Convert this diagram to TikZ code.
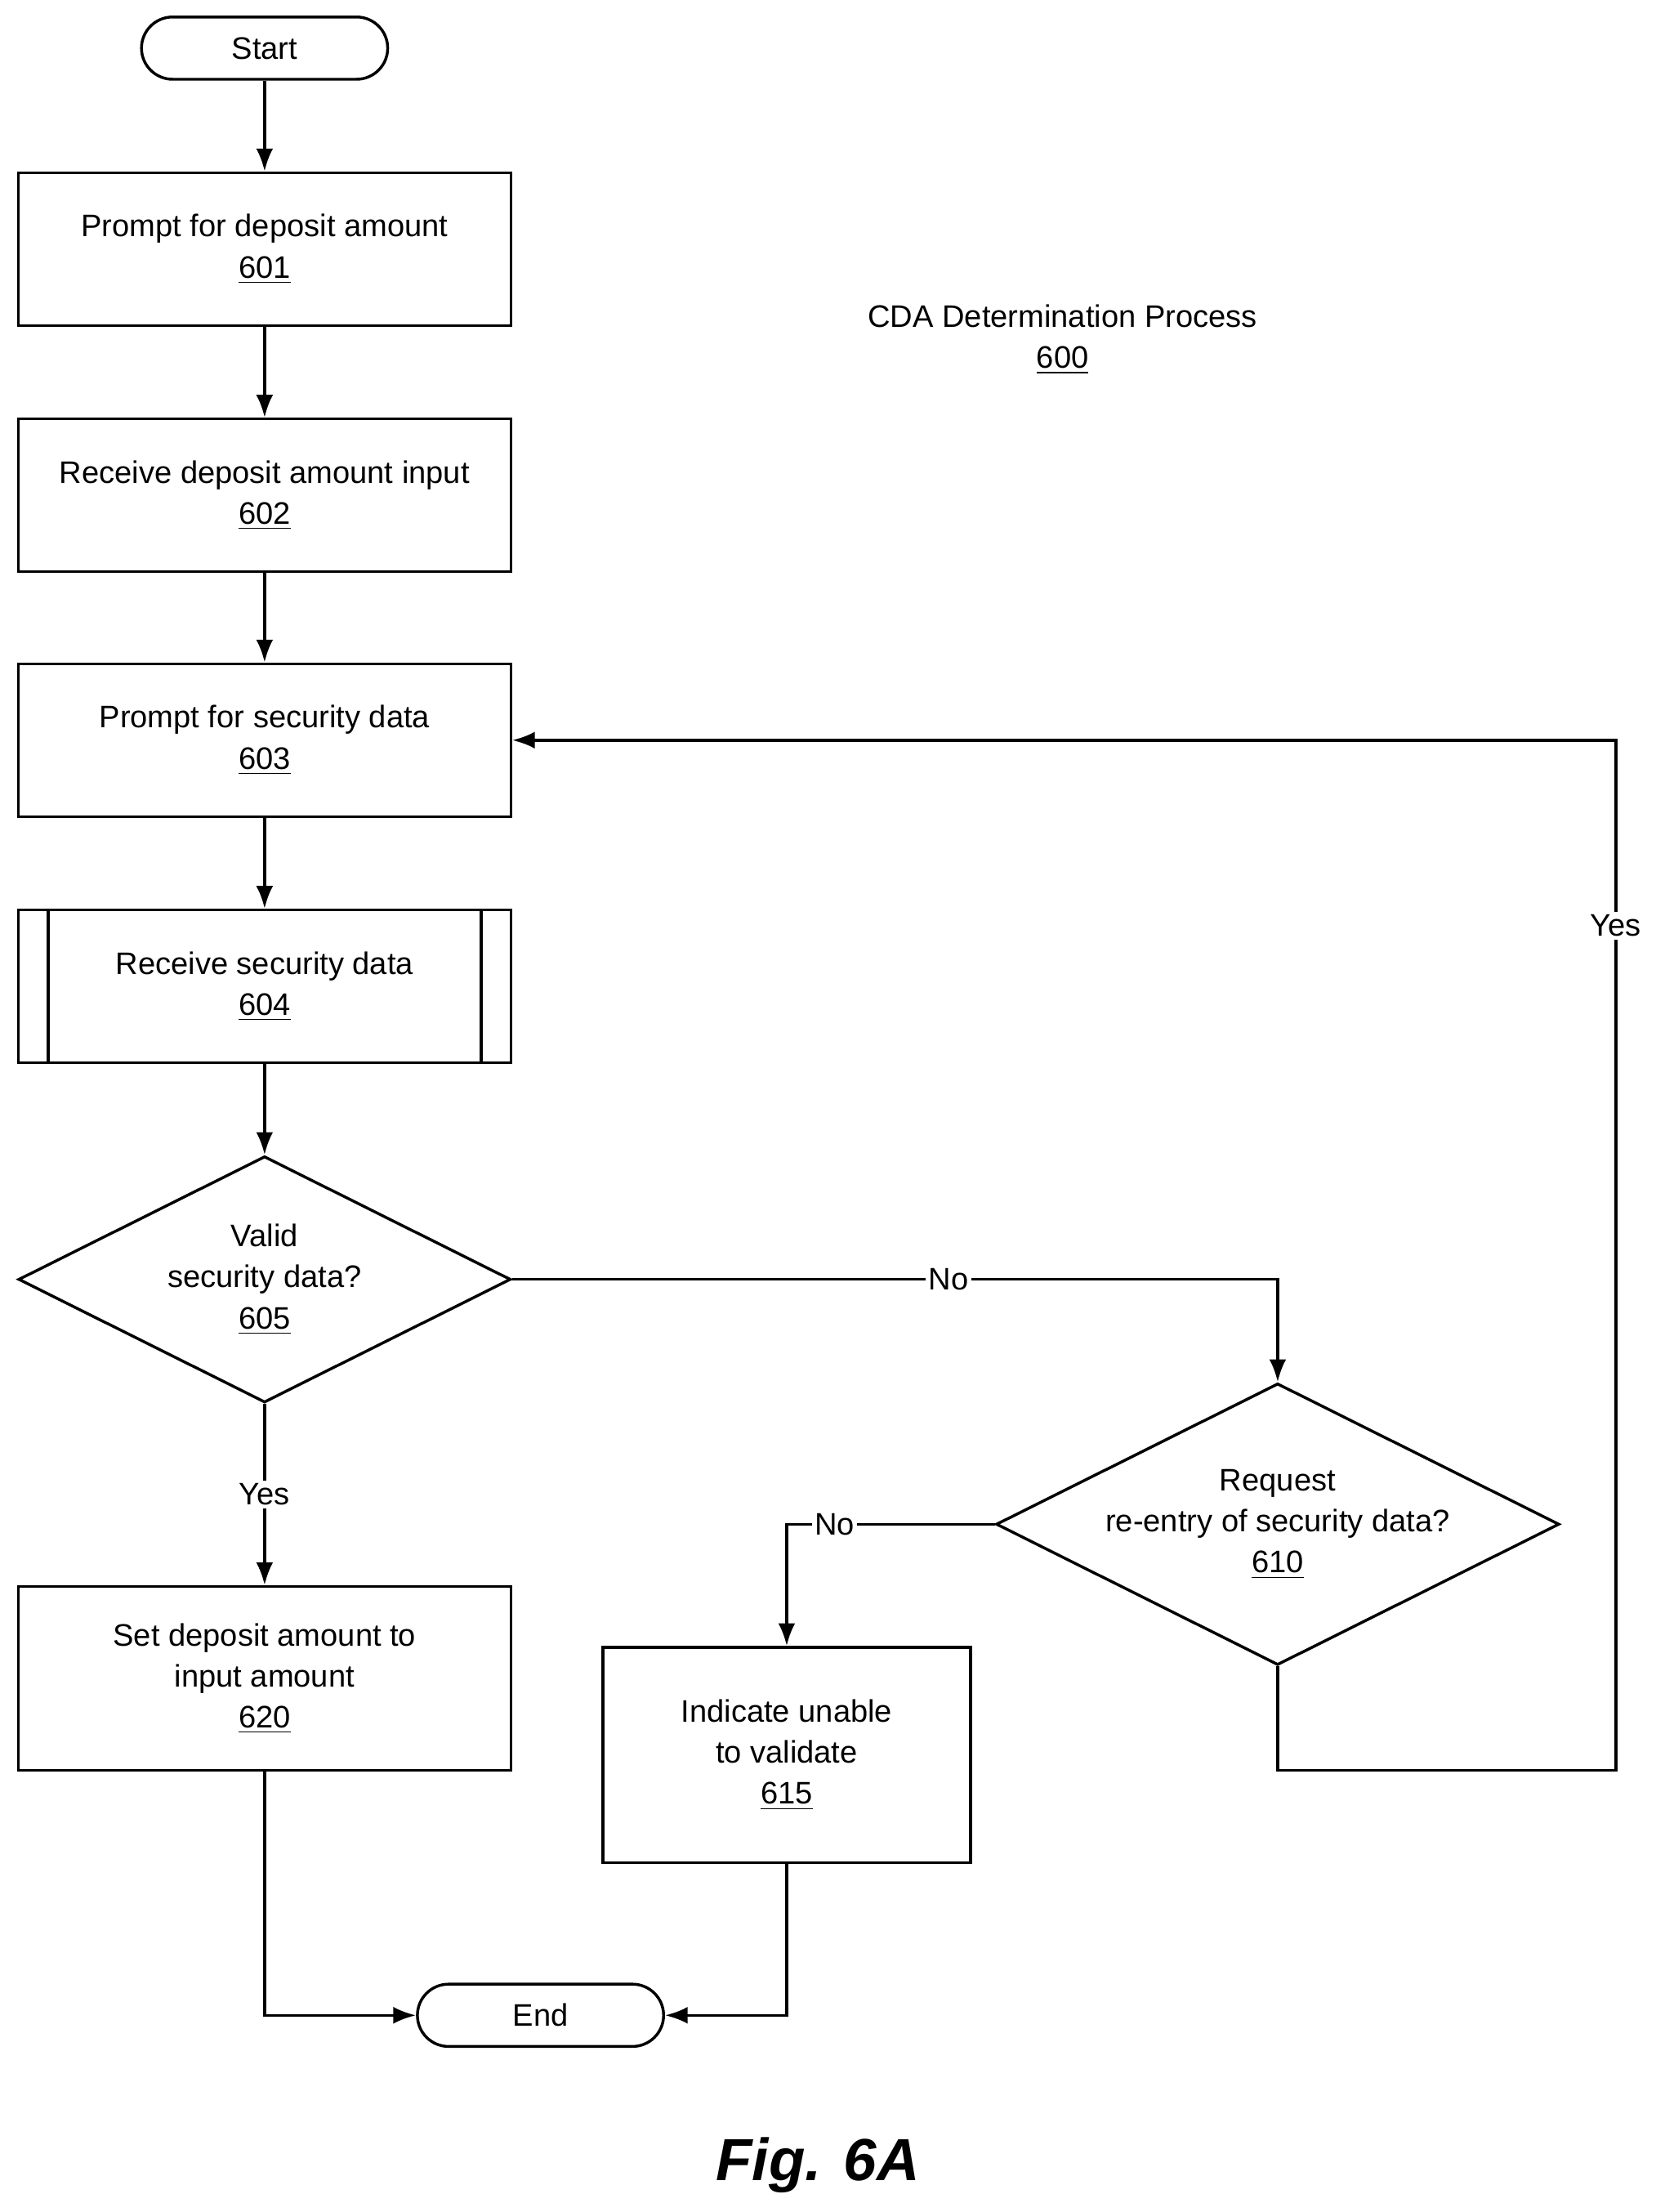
\documentclass[tikz,border=0pt]{standalone}
\usepackage{fontspec}
\setmainfont{Liberation Sans}
\usetikzlibrary{shapes.geometric,arrows.meta}
\tikzset{
  box/.style={draw=black, line width=1pt, fill=white, minimum width=174pt, minimum height=54pt, align=center, font=\fontsize{11}{14.5}\selectfont},
  term/.style={draw=black, line width=1pt, rounded corners=11pt, minimum width=87pt, minimum height=22pt, font=\fontsize{11}{14.5}\selectfont},
  dec/.style={draw=black, line width=1pt, diamond, aspect=2, inner sep=0pt, align=center, font=\fontsize{11}{14.5}\selectfont},
  flow/.style={draw=black, line width=1pt, -{Latex[length=8pt,width=6pt]}},
  lbl/.style={fill=white, inner sep=1pt, font=\fontsize{11}{14.5}\selectfont}
}
\begin{document}
\begin{tikzpicture}[x=0.5pt,y=-0.5pt]
\useasboundingbox (0,0) rectangle (1170,1563);
\node [term] (start) at (187,34) {Start};
\node [box] (p601) at (187,176) {Prompt for deposit amount\\\underline{601}};
\node [box] (p602) at (187,350) {Receive deposit amount input\\\underline{602}};
\node [box] (p603) at (187,523) {Prompt for security data\\\underline{603}};
\node [box] (p604) at (187,697) {Receive security data\\\underline{604}};
\draw [line width=1pt] ([xshift=11pt]p604.north west) -- ([xshift=11pt]p604.south west);
\draw [line width=1pt] ([xshift=-11pt]p604.north east) -- ([xshift=-11pt]p604.south east);
\node [dec, minimum width=174pt, minimum height=87pt] (p605) at (187,904) {Valid\\security data?\\\underline{605}};
\node [box, minimum height=65pt] (p620) at (187,1186) {Set deposit amount to\\input amount\\\underline{620}};
\node [dec, minimum width=196pt, minimum height=86.5pt] (p610) at (903,1077) {Request\\re-entry of security data?\\\underline{610}};
\node [box, minimum width=130pt, minimum height=76pt] (p615) at (556,1240) {Indicate unable\\to validate\\\underline{615}};
\node [term] (end) at (382,1424) {End};
\node [align=center, font=\fontsize{11}{14.5}\selectfont] (title) at (751,240) {CDA Determination Process\\\underline{600}};
\node [font=\fontsize{21}{24}\selectfont\bfseries\itshape] (fig) at (578,1530) {Fig. 6A};
\coordinate (c1) at (903,904);
\coordinate (c2) at (556,1077);
\coordinate (c3) at (903,1251);
\coordinate (c4) at (1142,1251);
\coordinate (c5) at (1142,523);
\coordinate (c6) at (187,1424);
\coordinate (c7) at (556,1424);
\draw [flow] (start) -- (p601);
\draw [flow] (p601) -- (p602);
\draw [flow] (p602) -- (p603);
\draw [flow] (p603) -- (p604);
\draw [flow] (p604) -- (p605);
\draw [flow] (p605) -- node [lbl] {Yes} (p620);
\draw [flow] (p605.east) -- node [lbl, pos=0.57] {No} (c1) -- (p610.north);
\draw [flow] (p610.west) -- node [lbl, pos=0.77] {No} (c2) -- (p615.north);
\draw [flow] (p610.south) -- (c3) -- (c4) -- node [lbl, pos=0.82] {Yes} (c5) -- (p603.east);
\draw [flow] (p620.south) -- (c6) -- (end.west);
\draw [flow] (p615.south) -- (c7) -- (end.east);
\end{tikzpicture}
\end{document}
